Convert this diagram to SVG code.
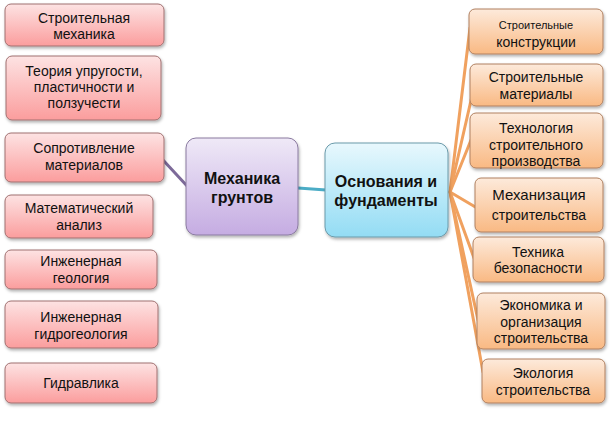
<svg xmlns="http://www.w3.org/2000/svg" width="614" height="422" viewBox="0 0 614 422">
<defs>
<linearGradient id="gPink" x1="0" y1="0" x2="0" y2="1"><stop offset="0" stop-color="#fde3e3"/><stop offset="1" stop-color="#fb9d9d"/></linearGradient>
<linearGradient id="gPurple" x1="0" y1="0" x2="0" y2="1"><stop offset="0" stop-color="#efe9f7"/><stop offset="1" stop-color="#c5ace2"/></linearGradient>
<linearGradient id="gBlue" x1="0" y1="0" x2="0" y2="1"><stop offset="0" stop-color="#e8f8fd"/><stop offset="1" stop-color="#93dcf4"/></linearGradient>
<linearGradient id="gOrange" x1="0" y1="0" x2="0" y2="1"><stop offset="0" stop-color="#fdeadb"/><stop offset="1" stop-color="#f9b983"/></linearGradient>
<filter id="sh" x="-10%" y="-10%" width="130%" height="140%"><feDropShadow dx="1" dy="2" stdDeviation="1.5" flood-color="#000" flood-opacity="0.3"/></filter>
</defs>
<style>
.box{stroke:#8c7a7a;stroke-width:1;filter:url(#sh)}
.pink{fill:url(#gPink);stroke:#a07070}
.purple{fill:url(#gPurple);stroke:#8a7aa0}
.blue{fill:url(#gBlue);stroke:#6a9aaa}
.orange{fill:url(#gOrange);stroke:#b08060}
text{font-family:"Liberation Sans","Noto Sans",sans-serif;font-size:14px;fill:#111;text-anchor:middle}
.big{font-size:16px;font-weight:bold;fill:#111}
.rt{font-size:14px}
.sm{font-size:11px}
.conn line{stroke-width:3;stroke-linecap:round}
</style>
<rect width="614" height="422" fill="#ffffff"/>
<g id="connectors" class="conn">
<line x1="163" y1="160" x2="188" y2="187" stroke="#7d6a99"/>
<line x1="298" y1="188" x2="326" y2="190" stroke="#4bacc6"/>
<g stroke="#f0a15f" stroke-width="2.5">
<line x1="450" y1="192" x2="470" y2="28"/>
<line x1="450" y1="192" x2="472" y2="96"/>
<line x1="450" y1="192" x2="471" y2="140"/>
<line x1="450" y1="192" x2="477" y2="208"/>
<line x1="450" y1="192" x2="474" y2="258"/>
<line x1="450" y1="192" x2="478" y2="320"/>
<line x1="450" y1="192" x2="483" y2="372"/>
</g>
</g>
<g id="n-stroymeh"><rect class="box pink" x="5" y="4" width="159" height="42" rx="6"/><text x="84" y="23">Строительная</text><text x="84" y="39">механика</text></g>
<g id="n-teoriya"><rect class="box pink" x="6" y="56" width="155" height="64" rx="6"/><text x="84" y="76">Теория упругости,</text><text x="84" y="92">пластичности и</text><text x="84" y="108">ползучести</text></g>
<g id="n-sopromat"><rect class="box pink" x="5" y="133" width="159" height="49" rx="6"/><text x="84" y="153">Сопротивление</text><text x="84" y="170">материалов</text></g>
<g id="n-matan"><rect class="box pink" x="5" y="195" width="148" height="43" rx="6"/><text x="79" y="213">Математический</text><text x="79" y="230">анализ</text></g>
<g id="n-geol"><rect class="box pink" x="5" y="250" width="152" height="39" rx="6"/><text x="81" y="266">Инженерная</text><text x="81" y="283">геология</text></g>
<g id="n-gidrogeol"><rect class="box pink" x="5" y="301" width="153" height="47" rx="6"/><text x="81" y="322">Инженерная</text><text x="81" y="339">гидрогеология</text></g>
<g id="n-gidravl"><rect class="box pink" x="5" y="363" width="152" height="40" rx="6"/><text x="81" y="388">Гидравлика</text></g>
<g id="n-mehgrunt"><rect class="box purple" x="186" y="138" width="112" height="97" rx="10"/><text class="big" x="242" y="184">Механика</text><text class="big" x="242" y="203">грунтов</text></g>
<g id="n-osnov"><rect class="box blue" x="325" y="143" width="123" height="94" rx="10"/><text class="big" x="386" y="187">Основания и</text><text class="big" x="386" y="206">фундаменты</text></g>
<g id="n-konstr"><rect class="box orange" x="469" y="9" width="134" height="45" rx="6"/><text class="sm" x="536" y="29">Строительные</text><text class="rt" x="536" y="47">конструкции</text></g>
<g id="n-mater"><rect class="box orange" x="470" y="64" width="133" height="42" rx="6"/><text class="rt" x="536" y="82">Строительные</text><text class="rt" x="536" y="99">материалы</text></g>
<g id="n-tehnol"><rect class="box orange" x="470" y="113" width="133" height="55" rx="6"/><text class="rt" x="536" y="133">Технология</text><text class="rt" x="536" y="150">строительного</text><text class="rt" x="536" y="166">производства</text></g>
<g id="n-mehaniz"><rect class="box orange" x="475" y="178" width="128" height="54" rx="6"/><text class="rt" x="539" y="200" style="font-size:15px">Механизация</text><text class="rt" x="539" y="220">строительства</text></g>
<g id="n-tb"><rect class="box orange" x="473" y="237" width="131" height="45" rx="6"/><text class="rt" x="538" y="257">Техника</text><text class="rt" x="538" y="273">безопасности</text></g>
<g id="n-ekonom"><rect class="box orange" x="477" y="293" width="128" height="56" rx="6"/><text class="rt" x="541" y="310">Экономика и</text><text class="rt" x="541" y="327">организация</text><text class="rt" x="541" y="343">строительства</text></g>
<g id="n-ekolog"><rect class="box orange" x="482" y="359" width="123" height="44" rx="6"/><text class="rt" x="543" y="378">Экология</text><text class="rt" x="543" y="395">строительства</text></g>
</svg>
